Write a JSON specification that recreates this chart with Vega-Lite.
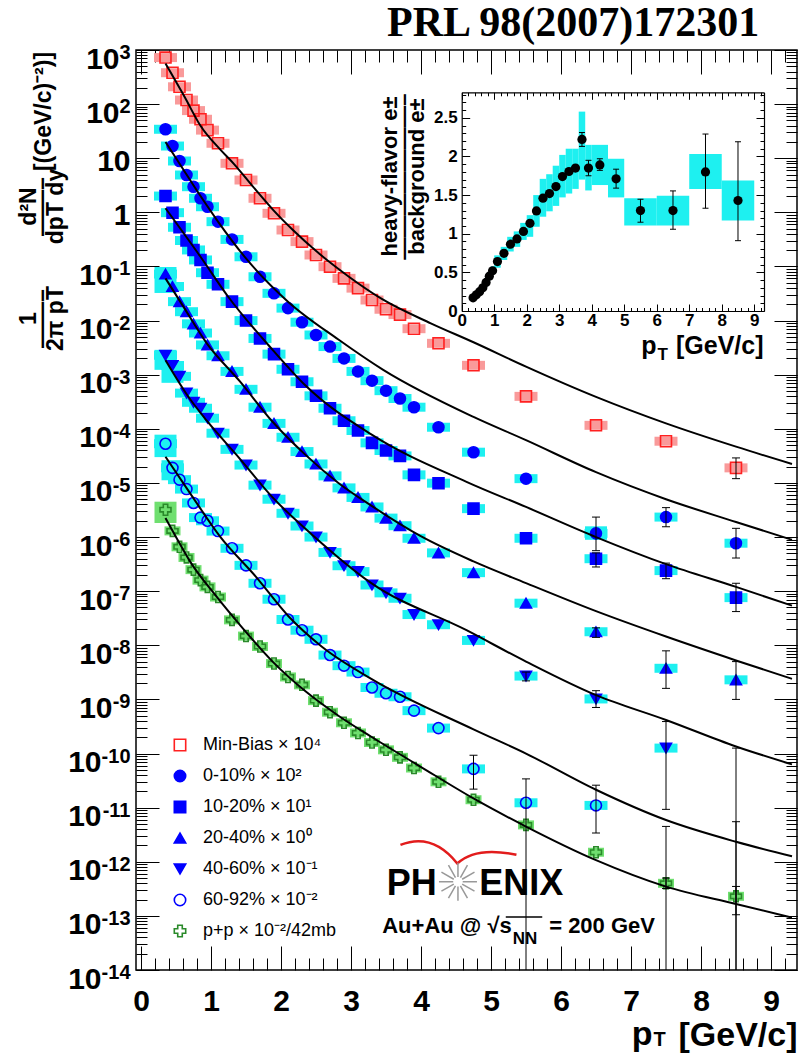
{
"$schema": "https://vega.github.io/schema/vega-lite/v6.json",
"width": 661, "height": 920,
"autosize": {"type": "none"},
"padding": {"left": 136, "top": 50, "right": 5, "bottom": 83},
"background": "white",
"config": {
  "font": "Liberation Sans",
  "view": {"stroke": "black", "strokeWidth": 1.5},
  "axis": {"grid": false, "labelFont": "Liberation Sans", "titleFont": "Liberation Sans", "labelColor": "black", "titleColor": "black", "tickColor": "black", "tickWidth": 1, "domainColor": "black"}
},
"datasets": {
  "main": [
    {"s":"Min-Bias","x":0.35,"y":724},{"s":"Min-Bias","x":0.45,"y":380},{"s":"Min-Bias","x":0.55,"y":209},{"s":"Min-Bias","x":0.65,"y":119},{"s":"Min-Bias","x":0.75,"y":75.9},{"s":"Min-Bias","x":0.85,"y":52.5},{"s":"Min-Bias","x":0.95,"y":33.1},{"s":"Min-Bias","x":1.1,"y":18.9},{"s":"Min-Bias","x":1.3,"y":8.05},{"s":"Min-Bias","x":1.5,"y":3.96},{"s":"Min-Bias","x":1.7,"y":1.82},{"s":"Min-Bias","x":1.9,"y":0.96},{"s":"Min-Bias","x":2.1,"y":0.472},{"s":"Min-Bias","x":2.3,"y":0.288},{"s":"Min-Bias","x":2.5,"y":0.163},{"s":"Min-Bias","x":2.7,"y":0.0991},{"s":"Min-Bias","x":2.9,"y":0.0603},{"s":"Min-Bias","x":3.1,"y":0.0398},{"s":"Min-Bias","x":3.3,"y":0.024},{"s":"Min-Bias","x":3.5,"y":0.0162},{"s":"Min-Bias","x":3.7,"y":0.0129},{"s":"Min-Bias","x":3.9,"y":0.00708},{"s":"Min-Bias","x":4.25,"y":0.0038},{"s":"Min-Bias","x":4.75,"y":0.00149},{"s":"Min-Bias","x":5.5,"y":0.000398},{"s":"Min-Bias","x":6.5,"y":0.000116},{"s":"Min-Bias","x":7.5,"y":5.9e-5},{"s":"Min-Bias","x":8.5,"y":1.9e-5},
    {"s":"0-10%","x":0.35,"y":34.3},{"s":"0-10%","x":0.45,"y":16.8},{"s":"0-10%","x":0.55,"y":8.89},{"s":"0-10%","x":0.65,"y":4.9},{"s":"0-10%","x":0.75,"y":2.98},{"s":"0-10%","x":0.85,"y":1.82},{"s":"0-10%","x":0.95,"y":1.27},{"s":"0-10%","x":1.1,"y":0.673},{"s":"0-10%","x":1.3,"y":0.316},{"s":"0-10%","x":1.5,"y":0.151},{"s":"0-10%","x":1.7,"y":0.0646},{"s":"0-10%","x":1.9,"y":0.0319},{"s":"0-10%","x":2.1,"y":0.017},{"s":"0-10%","x":2.3,"y":0.00933},{"s":"0-10%","x":2.5,"y":0.00542},{"s":"0-10%","x":2.7,"y":0.00331},{"s":"0-10%","x":2.9,"y":0.002},{"s":"0-10%","x":3.1,"y":0.00115},{"s":"0-10%","x":3.3,"y":0.000776},{"s":"0-10%","x":3.5,"y":0.000507},{"s":"0-10%","x":3.7,"y":0.000363},{"s":"0-10%","x":3.9,"y":0.000251},{"s":"0-10%","x":4.25,"y":0.000107},{"s":"0-10%","x":4.75,"y":3.7e-5},{"s":"0-10%","x":5.5,"y":1.2e-5},{"s":"0-10%","x":6.5,"y":1.17e-6},{"s":"0-10%","x":7.5,"y":2.34e-6},{"s":"0-10%","x":8.5,"y":7.7e-7},
    {"s":"10-20%","x":0.35,"y":2.0},{"s":"10-20%","x":0.45,"y":0.986},{"s":"10-20%","x":0.55,"y":0.53},{"s":"10-20%","x":0.65,"y":0.302},{"s":"10-20%","x":0.75,"y":0.202},{"s":"10-20%","x":0.85,"y":0.132},{"s":"10-20%","x":0.95,"y":0.0767},{"s":"10-20%","x":1.1,"y":0.0468},{"s":"10-20%","x":1.3,"y":0.0224},{"s":"10-20%","x":1.5,"y":0.01},{"s":"10-20%","x":1.7,"y":0.00468},{"s":"10-20%","x":1.9,"y":0.0024},{"s":"10-20%","x":2.1,"y":0.00126},{"s":"10-20%","x":2.3,"y":0.000741},{"s":"10-20%","x":2.5,"y":0.000407},{"s":"10-20%","x":2.7,"y":0.00024},{"s":"10-20%","x":2.9,"y":0.000141},{"s":"10-20%","x":3.1,"y":9.3e-5},{"s":"10-20%","x":3.3,"y":5.5e-5},{"s":"10-20%","x":3.5,"y":3.98e-5},{"s":"10-20%","x":3.7,"y":3.16e-5},{"s":"10-20%","x":3.9,"y":1.41e-5},{"s":"10-20%","x":4.25,"y":9.9e-6},{"s":"10-20%","x":4.75,"y":3.35e-6},{"s":"10-20%","x":5.5,"y":9.5e-7},{"s":"10-20%","x":6.5,"y":3.98e-7},{"s":"10-20%","x":7.5,"y":2.4e-7},{"s":"10-20%","x":8.5,"y":7.6e-8},
    {"s":"20-40%","x":0.35,"y":0.0724},{"s":"20-40%","x":0.45,"y":0.0427},{"s":"20-40%","x":0.55,"y":0.0224},{"s":"20-40%","x":0.65,"y":0.0146},{"s":"20-40%","x":0.75,"y":0.0087},{"s":"20-40%","x":0.85,"y":0.00589},{"s":"20-40%","x":0.95,"y":0.00355},{"s":"20-40%","x":1.1,"y":0.00224},{"s":"20-40%","x":1.3,"y":0.00115},{"s":"20-40%","x":1.5,"y":0.000537},{"s":"20-40%","x":1.7,"y":0.000251},{"s":"20-40%","x":1.9,"y":0.000126},{"s":"20-40%","x":2.1,"y":6.98e-5},{"s":"20-40%","x":2.3,"y":3.8e-5},{"s":"20-40%","x":2.5,"y":2.24e-5},{"s":"20-40%","x":2.7,"y":1.35e-5},{"s":"20-40%","x":2.9,"y":8.1e-6},{"s":"20-40%","x":3.1,"y":5.4e-6},{"s":"20-40%","x":3.3,"y":3.6e-6},{"s":"20-40%","x":3.5,"y":2.24e-6},{"s":"20-40%","x":3.7,"y":1.62e-6},{"s":"20-40%","x":3.9,"y":9.5e-7},{"s":"20-40%","x":4.25,"y":5.1e-7},{"s":"20-40%","x":4.75,"y":2.2e-7},{"s":"20-40%","x":5.5,"y":6.0e-8},{"s":"20-40%","x":6.5,"y":1.78e-8},{"s":"20-40%","x":7.5,"y":3.76e-9},{"s":"20-40%","x":8.5,"y":2.3e-9},
    {"s":"40-60%","x":0.35,"y":0.00229},{"s":"40-60%","x":0.45,"y":0.00148},{"s":"40-60%","x":0.55,"y":0.000933},{"s":"40-60%","x":0.65,"y":0.000457},{"s":"40-60%","x":0.75,"y":0.000309},{"s":"40-60%","x":0.85,"y":0.00024},{"s":"40-60%","x":0.95,"y":0.000157},{"s":"40-60%","x":1.1,"y":8.3e-5},{"s":"40-60%","x":1.3,"y":4.17e-5},{"s":"40-60%","x":1.5,"y":2.14e-5},{"s":"40-60%","x":1.7,"y":9.1e-6},{"s":"40-60%","x":1.9,"y":5.0e-6},{"s":"40-60%","x":2.1,"y":2.75e-6},{"s":"40-60%","x":2.3,"y":1.6e-6},{"s":"40-60%","x":2.5,"y":1.0e-6},{"s":"40-60%","x":2.7,"y":5.2e-7},{"s":"40-60%","x":2.9,"y":2.95e-7},{"s":"40-60%","x":3.1,"y":2.3e-7},{"s":"40-60%","x":3.3,"y":1.3e-7},{"s":"40-60%","x":3.5,"y":9.3e-8},{"s":"40-60%","x":3.7,"y":7.4e-8},{"s":"40-60%","x":3.9,"y":3.7e-8},{"s":"40-60%","x":4.25,"y":2.4e-8},{"s":"40-60%","x":4.75,"y":1.23e-8},{"s":"40-60%","x":5.5,"y":2.7e-9},{"s":"40-60%","x":6.5,"y":1.02e-9},{"s":"40-60%","x":7.5,"y":1.26e-10},
    {"s":"60-92%","x":0.35,"y":5.3e-5},{"s":"60-92%","x":0.45,"y":1.9e-5},{"s":"60-92%","x":0.55,"y":1.15e-5},{"s":"60-92%","x":0.65,"y":7.7e-6},{"s":"60-92%","x":0.75,"y":4.27e-6},{"s":"60-92%","x":0.85,"y":2.29e-6},{"s":"60-92%","x":0.95,"y":2.0e-6},{"s":"60-92%","x":1.1,"y":1.29e-6},{"s":"60-92%","x":1.3,"y":6.2e-7},{"s":"60-92%","x":1.5,"y":3.0e-7},{"s":"60-92%","x":1.7,"y":1.4e-7},{"s":"60-92%","x":1.9,"y":7.1e-8},{"s":"60-92%","x":2.1,"y":3.0e-8},{"s":"60-92%","x":2.3,"y":1.9e-8},{"s":"60-92%","x":2.5,"y":1.29e-8},{"s":"60-92%","x":2.7,"y":6.6e-9},{"s":"60-92%","x":2.9,"y":4.2e-9},{"s":"60-92%","x":3.1,"y":3.2e-9},{"s":"60-92%","x":3.3,"y":1.66e-9},{"s":"60-92%","x":3.5,"y":1.3e-9},{"s":"60-92%","x":3.7,"y":1.12e-9},{"s":"60-92%","x":3.9,"y":6.2e-10},{"s":"60-92%","x":4.25,"y":2.95e-10},{"s":"60-92%","x":4.75,"y":5.2e-11},{"s":"60-92%","x":5.5,"y":1.23e-11},{"s":"60-92%","x":6.5,"y":1.1e-11},
    {"s":"p+p","x":0.35,"y":3.2e-6},{"s":"p+p","x":0.45,"y":1.3e-6},{"s":"p+p","x":0.55,"y":6.6e-7},{"s":"p+p","x":0.65,"y":4.2e-7},{"s":"p+p","x":0.75,"y":2.5e-7},{"s":"p+p","x":0.85,"y":1.6e-7},{"s":"p+p","x":0.95,"y":1.2e-7},{"s":"p+p","x":1.1,"y":7.8e-8},{"s":"p+p","x":1.3,"y":2.95e-8},{"s":"p+p","x":1.5,"y":1.48e-8},{"s":"p+p","x":1.7,"y":9.5e-9},{"s":"p+p","x":1.9,"y":4.6e-9},{"s":"p+p","x":2.1,"y":2.6e-9},{"s":"p+p","x":2.3,"y":1.86e-9},{"s":"p+p","x":2.5,"y":9.5e-10},{"s":"p+p","x":2.7,"y":5.8e-10},{"s":"p+p","x":2.9,"y":3.7e-10},{"s":"p+p","x":3.1,"y":2.4e-10},{"s":"p+p","x":3.3,"y":1.6e-10},{"s":"p+p","x":3.5,"y":1.17e-10},{"s":"p+p","x":3.7,"y":8.5e-11},{"s":"p+p","x":3.9,"y":5.4e-11},{"s":"p+p","x":4.25,"y":3.0e-11},{"s":"p+p","x":4.75,"y":1.4e-11},{"s":"p+p","x":5.5,"y":4.8e-12},{"s":"p+p","x":6.5,"y":1.5e-12},{"s":"p+p","x":7.5,"y":4.0e-13},{"s":"p+p","x":8.5,"y":2.3e-13}
  ],
  "bigbox": [
    {"s":"20-40%","x":0.35,"lo":0.0324,"hi":0.0977},
    {"s":"40-60%","x":0.35,"lo":0.00123,"hi":0.00288},
    {"s":"40-60%","x":0.45,"lo":0.000708,"hi":0.0017},
    {"s":"60-92%","x":0.35,"lo":3.0e-5,"hi":7.8e-5},
    {"s":"60-92%","x":0.45,"lo":1.12e-5,"hi":2.63e-5},
    {"s":"p+p","x":0.35,"lo":1.82e-6,"hi":4.5e-6},
    {"s":"0-10%","x":6.5,"lo":8.9e-7,"hi":1.58e-6}
  ],
  "err": [
    {"s":"Min-Bias","x":8.5,"lo":1.2e-5,"hi":2.9e-5},
    {"s":"0-10%","x":6.5,"lo":5.6e-7,"hi":2.34e-6},
    {"s":"0-10%","x":7.5,"lo":1.55e-6,"hi":3.5e-6},
    {"s":"0-10%","x":8.5,"lo":4.1e-7,"hi":1.45e-6},
    {"s":"10-20%","x":6.5,"lo":2.8e-7,"hi":5.1e-7},
    {"s":"10-20%","x":7.5,"lo":1.7e-7,"hi":3.3e-7},
    {"s":"10-20%","x":8.5,"lo":4.2e-8,"hi":1.4e-7},
    {"s":"20-40%","x":6.5,"lo":1.4e-8,"hi":2.1e-8},
    {"s":"20-40%","x":7.5,"lo":1.6e-9,"hi":7.9e-9},
    {"s":"20-40%","x":8.5,"lo":1.0e-9,"hi":5.0e-9},
    {"s":"40-60%","x":5.5,"lo":2.2e-9,"hi":3.2e-9},
    {"s":"40-60%","x":6.5,"lo":7.1e-10,"hi":1.45e-9},
    {"s":"40-60%","x":7.5,"lo":9.3e-12,"hi":3.9e-10},
    {"s":"40-60%","x":8.5,"lo":1e-14,"hi":1.26e-10},
    {"s":"60-92%","x":4.75,"lo":2.2e-11,"hi":9.3e-11},
    {"s":"60-92%","x":5.5,"lo":1e-14,"hi":3.4e-11},
    {"s":"60-92%","x":6.5,"lo":3.4e-12,"hi":2.6e-11},
    {"s":"60-92%","x":7.5,"lo":1e-14,"hi":4.5e-12},
    {"s":"60-92%","x":8.5,"lo":1e-14,"hi":5.5e-12},
    {"s":"p+p","x":7.5,"lo":3.2e-13,"hi":5.0e-13},
    {"s":"p+p","x":8.5,"lo":1.05e-13,"hi":3.5e-13}
  ],
  "curves": [
    {"s":"Min-Bias","x":0.35,"y":562},{"s":"Min-Bias","x":0.62,"y":138},{"s":"Min-Bias","x":0.85,"y":39.8},{"s":"Min-Bias","x":1.14,"y":14.1},{"s":"Min-Bias","x":1.32,"y":8.05},{"s":"Min-Bias","x":1.6,"y":2.98},{"s":"Min-Bias","x":1.89,"y":1.1},{"s":"Min-Bias","x":2.17,"y":0.472},{"s":"Min-Bias","x":2.54,"y":0.175},{"s":"Min-Bias","x":2.97,"y":0.0646},{"s":"Min-Bias","x":3.44,"y":0.0251},{"s":"Min-Bias","x":4.14,"y":0.00891},{"s":"Min-Bias","x":4.75,"y":0.00398},{"s":"Min-Bias","x":5.5,"y":0.00141},{"s":"Min-Bias","x":6.5,"y":0.000389},{"s":"Min-Bias","x":7.5,"y":0.000126},{"s":"Min-Bias","x":8.5,"y":4.68e-5},{"s":"Min-Bias","x":9.3,"y":2.24e-5},
    {"s":"0-10%","x":0.35,"y":19.95},{"s":"0-10%","x":0.6,"y":6.31},{"s":"0-10%","x":0.85,"y":2.0},{"s":"0-10%","x":1.1,"y":0.676},{"s":"0-10%","x":1.5,"y":0.141},{"s":"0-10%","x":2.1,"y":0.0224},{"s":"0-10%","x":2.82,"y":0.00447},{"s":"0-10%","x":3.46,"y":0.00123},{"s":"0-10%","x":4.75,"y":0.000166},{"s":"0-10%","x":5.5,"y":6.17e-5},{"s":"0-10%","x":6.5,"y":1.58e-5},{"s":"0-10%","x":7.5,"y":5.0e-6},{"s":"0-10%","x":8.5,"y":1.9e-6},{"s":"0-10%","x":9.3,"y":8.9e-7},
    {"s":"10-20%","x":0.35,"y":1.19},{"s":"10-20%","x":0.85,"y":0.151},{"s":"10-20%","x":1.24,"y":0.0282},{"s":"10-20%","x":1.88,"y":0.00288},{"s":"10-20%","x":2.35,"y":0.00063},{"s":"10-20%","x":3.29,"y":7.9e-5},{"s":"10-20%","x":4.65,"y":1.05e-5},{"s":"10-20%","x":5.5,"y":3.6e-6},{"s":"10-20%","x":6.5,"y":1.0e-6},{"s":"10-20%","x":7.5,"y":3.16e-7},{"s":"10-20%","x":8.5,"y":1.2e-7},{"s":"10-20%","x":9.3,"y":5.4e-8},
    {"s":"20-40%","x":0.35,"y":0.0603},{"s":"20-40%","x":0.59,"y":0.0195},{"s":"20-40%","x":0.94,"y":0.0038},{"s":"20-40%","x":1.41,"y":0.000759},{"s":"20-40%","x":1.88,"y":0.000135},{"s":"20-40%","x":2.35,"y":3.3e-5},{"s":"20-40%","x":2.82,"y":1.0e-5},{"s":"20-40%","x":3.29,"y":3.8e-6},{"s":"20-40%","x":3.99,"y":1.05e-6},{"s":"20-40%","x":4.75,"y":3.55e-7},{"s":"20-40%","x":5.5,"y":1.41e-7},{"s":"20-40%","x":6.5,"y":4.27e-8},{"s":"20-40%","x":7.5,"y":1.45e-8},{"s":"20-40%","x":8.5,"y":5.25e-9},{"s":"20-40%","x":9.3,"y":2.4e-9},
    {"s":"40-60%","x":0.35,"y":0.00186},{"s":"40-60%","x":0.7,"y":0.000355},{"s":"40-60%","x":0.94,"y":0.000141},{"s":"40-60%","x":1.41,"y":2.82e-5},{"s":"40-60%","x":1.88,"y":5.4e-6},{"s":"40-60%","x":2.44,"y":1.12e-6},{"s":"40-60%","x":3.29,"y":1.41e-7},{"s":"40-60%","x":4.65,"y":1.9e-8},{"s":"40-60%","x":5.5,"y":5.0e-9},{"s":"40-60%","x":6.5,"y":1.2e-9},{"s":"40-60%","x":7.5,"y":4.17e-10},{"s":"40-60%","x":8.5,"y":1.35e-10},{"s":"40-60%","x":9.3,"y":6.3e-11},
    {"s":"60-92%","x":0.35,"y":3.05e-5},{"s":"60-92%","x":0.7,"y":6.5e-6},{"s":"60-92%","x":1.13,"y":1.02e-6},{"s":"60-92%","x":1.64,"y":1.86e-7},{"s":"60-92%","x":2.11,"y":3.4e-8},{"s":"60-92%","x":2.58,"y":9.5e-9},{"s":"60-92%","x":3.29,"y":2.4e-9},{"s":"60-92%","x":4.75,"y":2.8e-10},{"s":"60-92%","x":5.5,"y":1.0e-10},{"s":"60-92%","x":6.5,"y":2.14e-11},{"s":"60-92%","x":7.5,"y":5.9e-12},{"s":"60-92%","x":8.5,"y":2.34e-12},{"s":"60-92%","x":9.3,"y":1.26e-12},
    {"s":"p+p","x":0.35,"y":2.24e-6},{"s":"p+p","x":0.5,"y":1.0e-6},{"s":"p+p","x":0.7,"y":3.55e-7},{"s":"p+p","x":1.08,"y":7.9e-8},{"s":"p+p","x":1.41,"y":2.4e-8},{"s":"p+p","x":1.88,"y":5.0e-9},{"s":"p+p","x":2.35,"y":1.41e-9},{"s":"p+p","x":2.82,"y":5.0e-10},{"s":"p+p","x":3.29,"y":2.04e-10},{"s":"p+p","x":3.99,"y":5.75e-11},{"s":"p+p","x":4.75,"y":1.48e-11},{"s":"p+p","x":5.5,"y":4.47e-12},{"s":"p+p","x":6.5,"y":1.07e-12},{"s":"p+p","x":7.5,"y":3.47e-13},{"s":"p+p","x":8.5,"y":1.66e-13},{"s":"p+p","x":9.3,"y":9.3e-14}
  ],
  "ratio": [
    {"x":0.35,"y":0.17},{"x":0.45,"y":0.21},{"x":0.55,"y":0.25},{"x":0.65,"y":0.3},{"x":0.75,"y":0.37},{"x":0.85,"y":0.45},{"x":0.95,"y":0.52},{"x":1.1,"y":0.64},{"x":1.3,"y":0.747},{"x":1.5,"y":0.864},{"x":1.7,"y":0.933},{"x":1.9,"y":1.03},{"x":2.1,"y":1.135},{"x":2.3,"y":1.295},{"x":2.5,"y":1.46},{"x":2.7,"y":1.52},{"x":2.9,"y":1.61},{"x":3.1,"y":1.74},{"x":3.3,"y":1.805},{"x":3.5,"y":1.85},{"x":3.7,"y":2.22},{"x":3.9,"y":1.85},{"x":4.25,"y":1.89},{"x":4.75,"y":1.71},{"x":5.5,"y":1.3},{"x":6.5,"y":1.3},{"x":7.5,"y":1.8},{"x":8.5,"y":1.43}
  ],
  "ratiosys": [
    {"x1":0.3,"x2":0.4,"lo":0.14,"hi":0.2},{"x1":0.4,"x2":0.5,"lo":0.18,"hi":0.25},{"x1":0.5,"x2":0.6,"lo":0.22,"hi":0.29},{"x1":0.6,"x2":0.7,"lo":0.26,"hi":0.34},{"x1":0.7,"x2":0.8,"lo":0.32,"hi":0.42},{"x1":0.8,"x2":0.9,"lo":0.4,"hi":0.5},{"x1":0.9,"x2":1.0,"lo":0.47,"hi":0.58},{"x1":1.0,"x2":1.2,"lo":0.56,"hi":0.72},{"x1":1.2,"x2":1.4,"lo":0.66,"hi":0.83},{"x1":1.4,"x2":1.6,"lo":0.77,"hi":0.96},{"x1":1.6,"x2":1.8,"lo":0.83,"hi":1.03},{"x1":1.8,"x2":2.0,"lo":0.92,"hi":1.14},{"x1":2.0,"x2":2.2,"lo":0.96,"hi":1.24},{"x1":2.2,"x2":2.4,"lo":1.09,"hi":1.5},{"x1":2.4,"x2":2.6,"lo":1.22,"hi":1.71},{"x1":2.6,"x2":2.8,"lo":1.29,"hi":1.77},{"x1":2.8,"x2":3.0,"lo":1.36,"hi":1.88},{"x1":3.0,"x2":3.2,"lo":1.47,"hi":2.02},{"x1":3.2,"x2":3.4,"lo":1.52,"hi":2.1},{"x1":3.4,"x2":3.6,"lo":1.58,"hi":2.1},{"x1":3.6,"x2":3.8,"lo":1.7,"hi":2.58},{"x1":3.8,"x2":4.0,"lo":1.56,"hi":2.15},{"x1":4.0,"x2":4.5,"lo":1.63,"hi":2.15},{"x1":4.5,"x2":5.0,"lo":1.47,"hi":1.97},{"x1":5.0,"x2":6.0,"lo":1.105,"hi":1.46},{"x1":6.0,"x2":7.0,"lo":1.105,"hi":1.49},{"x1":7.0,"x2":8.0,"lo":1.58,"hi":2.03},{"x1":8.0,"x2":9.0,"lo":1.17,"hi":1.69}
  ],
  "ratioerr": [
    {"x":3.7,"lo":2.13,"hi":2.31},{"x":3.9,"lo":1.75,"hi":1.95},{"x":4.25,"lo":1.82,"hi":1.97},{"x":4.75,"lo":1.59,"hi":1.835},{"x":5.5,"lo":1.149,"hi":1.446},{"x":6.5,"lo":1.058,"hi":1.554},{"x":7.5,"lo":1.33,"hi":2.29},{"x":8.5,"lo":0.91,"hi":2.19}
  ]
},
"layer": [
 {
  "layer": [
   {
    "data": {"name": "main"},
    "transform": [{"filter": "datum.s !== 'p+p'"}],
    "mark": {"type": "tick", "orient": "horizontal", "size": 23, "thickness": 9, "opacity": 1, "clip": true},
    "encoding": {
      "x": {"field": "x", "type": "quantitative", "scale": {"domain": [0, 9.3], "nice": false, "zero": false},
        "axis": {"orient": "bottom", "values": [0,1,2,3,4,5,6,7,8,9], "format": "d", "tickSize": -24, "domain": false, "labelFontSize": 30, "labelFontWeight": "bold", "labelPadding": 40, "labelFlush": false, "labelOverlap": false,
          "title": "[GeV/c]", "titleFontSize": 34, "titleFontWeight": "bold", "titleAlign": "right", "titleAngle": 0, "titleBaseline": "alphabetic", "titleX": 661, "titleY": 75}},
      "y": {"field": "y", "type": "quantitative", "scale": {"type": "log", "domain": [1e-14, 1000], "nice": false},
        "axis": {"orient": "left", "values": [1e-14,1e-13,1e-12,1e-11,1e-10,1e-9,1e-8,1e-7,1e-6,1e-5,1e-4,1e-3,1e-2,1e-1,1,10,100,1000], "tickSize": -23, "domain": false, "labelFontSize": 30, "labelFontWeight": "bold", "labelPadding": 58, "labelOffset": 9, "labelAlign": "right", "labelBaseline": "middle", "labelFlush": false, "labelOverlap": false,
          "labelExpr": "datum.value < 5e-10 ? '10' : ''",
          "title": ["1", "——–", "2π pT"], "titleFontSize": 23, "titleFontWeight": "bold", "titleAngle": -90, "titleAlign": "center", "titleBaseline": "alphabetic", "titleLineHeight": 13.5, "titleX": -101, "titleY": 268}},
      "color": {"condition": {"test": "datum.s === 'Min-Bias'", "value": "#f99a9a"}, "value": "#1ef0f0"}
    }
   },
   {
    "data": {"name": "main"},
    "transform": [{"filter": "datum.s === 'p+p'"}],
    "mark": {"type": "tick", "orient": "horizontal", "size": 16, "thickness": 9, "color": "#6fdf6f", "opacity": 1, "clip": true},
    "encoding": {
      "x": {"field": "x", "type": "quantitative", "axis": null},
      "y": {"field": "y", "type": "quantitative",
        "axis": {"orient": "left", "values": [1e-14,1e-13,1e-12,1e-11,1e-10,1e-9,1e-8,1e-7,1e-6,1e-5,1e-4,1e-3,1e-2,1e-1,1,10,100,1000], "ticks": false, "tickSize": 0, "domain": false, "labels": true, "labelFontSize": 30, "labelFontWeight": "bold", "labelPadding": 24, "labelOffset": 9, "labelAlign": "right", "labelBaseline": "middle", "labelFlush": false, "labelOverlap": false,
          "labelExpr": "(datum.value > 5e-10 && datum.value < 0.5) ? '10' : ''", "title": null}}
    }
   },
   {
    "data": {"name": "bigbox"},
    "mark": {"type": "bar", "width": 22, "clip": true},
    "encoding": {
      "x": {"field": "x", "type": "quantitative", "axis": null},
      "y": {"field": "lo", "type": "quantitative",
        "axis": {"orient": "left", "values": [1e-14,1e-13,1e-12,1e-11,1e-10,1e-9,1e-8,1e-7,1e-6,1e-5,1e-4,1e-3,1e-2,1e-1,1,10,100,1000], "ticks": false, "tickSize": 0, "domain": false, "labels": true, "labelFontSize": 30, "labelFontWeight": "bold", "labelPadding": 17, "labelOffset": 9, "labelAlign": "right", "labelBaseline": "middle", "labelFlush": false, "labelOverlap": false,
          "labelExpr": "datum.value > 50 ? '10' : ''", "title": null}},
      "y2": {"field": "hi"},
      "color": {"condition": {"test": "datum.s === 'p+p'", "value": "#6fdf6f"}, "value": "#1ef0f0"}
    }
   },
   {
    "data": {"name": "main"},
    "mark": {"type": "point", "size": 120, "strokeWidth": 1.6, "opacity": 1, "clip": true},
    "encoding": {
      "x": {"field": "x", "type": "quantitative", "axis": null},
      "y": {"field": "y", "type": "quantitative", "axis": null},
      "shape": {"field": "s", "type": "nominal", "scale": {"domain": ["Min-Bias","0-10%","10-20%","20-40%","40-60%","60-92%","p+p"], "range": ["square","circle","square","triangle-up","triangle-down","circle","cross"]},
        "legend": {"title": null, "orient": "none", "legendX": 35, "legendY": 686, "symbolSize": 130, "symbolStrokeWidth": 1.6, "labelFont": "Liberation Sans", "labelFontSize": 18, "labelColor": "black", "labelOffset": 14, "rowPadding": 13,
          "labelExpr": "datum.label == 'Min-Bias' ? 'Min-Bias × 10⁴' : datum.label == '0-10%' ? '0-10% × 10²' : datum.label == '10-20%' ? '10-20% × 10¹' : datum.label == '20-40%' ? '20-40% × 10⁰' : datum.label == '40-60%' ? '40-60% × 10⁻¹' : datum.label == '60-92%' ? '60-92% × 10⁻²' : 'p+p × 10⁻²/42mb'"}},
      "fill": {"field": "s", "type": "nominal", "scale": {"domain": ["Min-Bias","0-10%","10-20%","20-40%","40-60%","60-92%","p+p"], "range": ["transparent","#0000ff","#0000ff","#0000ff","#0000ff","transparent","transparent"]},
        "legend": {"title": null, "orient": "none", "legendX": 35, "legendY": 686, "symbolSize": 130, "symbolStrokeWidth": 1.6, "labelFont": "Liberation Sans", "labelFontSize": 18, "labelColor": "black", "labelOffset": 14, "rowPadding": 13,
          "labelExpr": "datum.label == 'Min-Bias' ? 'Min-Bias × 10⁴' : datum.label == '0-10%' ? '0-10% × 10²' : datum.label == '10-20%' ? '10-20% × 10¹' : datum.label == '20-40%' ? '20-40% × 10⁰' : datum.label == '40-60%' ? '40-60% × 10⁻¹' : datum.label == '60-92%' ? '60-92% × 10⁻²' : 'p+p × 10⁻²/42mb'"}},
      "stroke": {"field": "s", "type": "nominal", "scale": {"domain": ["Min-Bias","0-10%","10-20%","20-40%","40-60%","60-92%","p+p"], "range": ["#ff2020","#0000ff","#0000ff","#0000ff","#0000ff","#0000ff","#2a8a2a"]},
        "legend": {"title": null, "orient": "none", "legendX": 35, "legendY": 686, "symbolSize": 130, "symbolStrokeWidth": 1.6, "labelFont": "Liberation Sans", "labelFontSize": 18, "labelColor": "black", "labelOffset": 14, "rowPadding": 13,
          "labelExpr": "datum.label == 'Min-Bias' ? 'Min-Bias × 10⁴' : datum.label == '0-10%' ? '0-10% × 10²' : datum.label == '10-20%' ? '10-20% × 10¹' : datum.label == '20-40%' ? '20-40% × 10⁰' : datum.label == '40-60%' ? '40-60% × 10⁻¹' : datum.label == '60-92%' ? '60-92% × 10⁻²' : 'p+p × 10⁻²/42mb'"}}
    }
   },
   {
    "data": {"name": "curves"},
    "mark": {"type": "line", "color": "black", "strokeWidth": 2, "interpolate": "monotone", "clip": true},
    "encoding": {
      "x": {"field": "x", "type": "quantitative",
        "axis": {"orient": "bottom", "values": [0.2,0.4,0.6,0.8,1.2,1.4,1.6,1.8,2.2,2.4,2.6,2.8,3.2,3.4,3.6,3.8,4.2,4.4,4.6,4.8,5.2,5.4,5.6,5.8,6.2,6.4,6.6,6.8,7.2,7.4,7.6,7.8,8.2,8.4,8.6,8.8,9.2], "tickSize": -12, "labels": false, "domain": false,
          "title": "p", "titleFontSize": 34, "titleFontWeight": "bold", "titleAlign": "right", "titleAngle": 0, "titleBaseline": "alphabetic", "titleX": 516, "titleY": 74}},
      "y": {"field": "y", "type": "quantitative",
        "axis": {"orient": "left", "tickCount": 200, "tickSize": -11, "labels": true, "labelFontSize": 30, "labelFontWeight": "bold", "labelPadding": 17, "labelOffset": 3.5, "labelAlign": "right", "labelBaseline": "middle", "labelOverlap": false, "labelFlush": false, "labelBound": false,
          "labelExpr": "datum.value == 1 ? '1' : datum.value == 10 ? '10' : ''", "domain": false,
          "title": ["d²N", "——–", "dpT dy"], "titleFontSize": 23, "titleFontWeight": "bold", "titleAngle": -90, "titleAlign": "center", "titleBaseline": "alphabetic", "titleLineHeight": 13.5, "titleX": -101, "titleY": 156}},
      "detail": {"field": "s"}
    }
   },
   {
    "data": {"name": "err"},
    "mark": {"type": "rule", "color": "black", "strokeWidth": 1, "clip": true},
    "encoding": {
      "x": {"field": "x", "type": "quantitative",
        "axis": {"orient": "top", "values": [0,1,2,3,4,5,6,7,8,9], "tickSize": -24, "labels": false, "domain": false, "title": null}},
      "y": {"field": "lo", "type": "quantitative",
        "axis": {"orient": "right", "values": [1e-14,1e-13,1e-12,1e-11,1e-10,1e-9,1e-8,1e-7,1e-6,1e-5,1e-4,1e-3,1e-2,1e-1,1,10,100,1000], "tickSize": -23, "labels": false, "domain": false, "title": null}},
      "y2": {"field": "hi"}
    }
   },
   {
    "data": {"name": "err"},
    "transform": [{"filter": "datum.lo > 1e-14"}],
    "mark": {"type": "tick", "orient": "horizontal", "size": 8, "thickness": 1, "color": "black", "opacity": 1, "clip": true},
    "encoding": {
      "x": {"field": "x", "type": "quantitative",
        "axis": {"orient": "top", "values": [0.2,0.4,0.6,0.8,1.2,1.4,1.6,1.8,2.2,2.4,2.6,2.8,3.2,3.4,3.6,3.8,4.2,4.4,4.6,4.8,5.2,5.4,5.6,5.8,6.2,6.4,6.6,6.8,7.2,7.4,7.6,7.8,8.2,8.4,8.6,8.8,9.2], "tickSize": -12, "labels": false, "domain": false, "title": null}},
      "y": {"field": "lo", "type": "quantitative",
        "axis": {"orient": "right", "tickCount": 200, "tickSize": -11, "labels": false, "domain": false, "title": null}}
    }
   },
   {
    "data": {"name": "err"},
    "mark": {"type": "tick", "orient": "horizontal", "size": 8, "thickness": 1, "color": "black", "opacity": 1, "clip": true},
    "encoding": {
      "x": {"field": "x", "type": "quantitative",
        "axis": {"orient": "bottom", "ticks": false, "labels": false, "domain": false,
          "title": "T", "titleFontSize": 20, "titleFontWeight": "bold", "titleAlign": "left", "titleAngle": 0, "titleBaseline": "alphabetic", "titleX": 517, "titleY": 75}},
      "y": {"field": "hi", "type": "quantitative",
        "axis": {"orient": "left", "values": [1e-14,1e-13,1e-12,1e-11,1e-10,1e-9,1e-8,1e-7,1e-6,1e-5,1e-4,1e-3,1e-2,1e-1,1,10,100,1000], "ticks": false, "tickSize": 0, "domain": false,
          "labels": true, "labelFontSize": 20, "labelFontWeight": "bold", "labelPadding": 6, "labelOffset": 2.5, "labelAlign": "right", "labelBaseline": "middle", "labelOverlap": false, "labelFlush": false,
          "labelExpr": "['-14','-13','-12','-11','-10','-9','-8','-7','-6','-5','-4','-3','-2','-1','','','2','3'][round(log(datum.value)/LN10) + 14]",
          "title": "[(GeV/c)⁻²)]", "titleFontSize": 23, "titleFontWeight": "bold", "titleAngle": -90, "titleAlign": "center", "titleBaseline": "alphabetic", "titleX": -86, "titleY": 61}}
    }
   },
   {
    "data": {"values": [{}]},
    "mark": {"type": "text", "text": "PRL 98(2007)172301", "align": "right", "baseline": "alphabetic", "font": "Liberation Serif", "fontSize": 42, "fontWeight": "bold", "color": "black"},
    "encoding": {"x": {"datum": 8.831, "type": "quantitative", "axis": null}, "y": {"datum": 1814, "type": "quantitative", "axis": null}}
   },
   {
    "data": {"values": [{}]},
    "mark": {"type": "point", "shape": "M-1,-0.12 Q-0.45,-0.34 -0.02,0.2 Q0.3,-0.1 1,0.05", "size": 13456, "stroke": "#e21c1c", "strokeWidth": 2.5, "filled": false, "opacity": 1},
    "encoding": {"x": {"datum": 4.535, "type": "quantitative", "axis": null}, "y": {"datum": 1.52e-12, "type": "quantitative", "axis": null}}
   },
   {
    "data": {"values": [{}]},
    "mark": {"type": "point", "shape": "M0.25,0L1,0M-0.25,0L-1,0M0,0.25L0,1M0,-0.25L0,-1M0.22,0.13L0.87,0.5M-0.22,-0.13L-0.87,-0.5M0.22,-0.13L0.87,-0.5M-0.22,0.13L-0.87,0.5M0.13,0.22L0.5,0.87M-0.13,-0.22L-0.5,-0.87M0.13,-0.22L0.5,-0.87M-0.13,0.22L-0.5,0.87", "size": 1444, "stroke": "#999999", "strokeWidth": 1.5, "filled": false, "opacity": 1},
    "encoding": {"x": {"datum": 4.528, "type": "quantitative", "axis": null}, "y": {"datum": 4.28e-13, "type": "quantitative", "axis": null}}
   },
   {
    "data": {"values": [{}]},
    "mark": {"type": "text", "text": "PH", "align": "right", "baseline": "alphabetic", "font": "Liberation Sans", "fontSize": 36, "fontWeight": "bold", "color": "black"},
    "encoding": {"x": {"datum": 4.225, "type": "quantitative", "axis": null}, "y": {"datum": 2.44e-13, "type": "quantitative", "axis": null}}
   },
   {
    "data": {"values": [{}]},
    "mark": {"type": "text", "text": "ENIX", "align": "left", "baseline": "alphabetic", "font": "Liberation Sans", "fontSize": 36, "fontWeight": "bold", "color": "black"},
    "encoding": {"x": {"datum": 4.831, "type": "quantitative", "axis": null}, "y": {"datum": 2.44e-13, "type": "quantitative", "axis": null}}
   },
   {
    "data": {"values": [{}]},
    "mark": {"type": "text", "text": "Au+Au @ √s", "align": "right", "baseline": "alphabetic", "font": "Liberation Sans", "fontSize": 22, "fontWeight": "bold", "color": "black"},
    "encoding": {"x": {"datum": 5.296, "type": "quantitative", "axis": null}, "y": {"datum": 4.83e-14, "type": "quantitative", "axis": null}}
   },
   {
    "data": {"values": [{}]},
    "mark": {"type": "text", "text": "NN", "align": "left", "baseline": "alphabetic", "font": "Liberation Sans", "fontSize": 17, "fontWeight": "bold", "color": "black"},
    "encoding": {"x": {"datum": 5.31, "type": "quantitative", "axis": null}, "y": {"datum": 3.03e-14, "type": "quantitative", "axis": null}}
   },
   {
    "data": {"values": [{}]},
    "mark": {"type": "text", "text": "= 200 GeV", "align": "left", "baseline": "alphabetic", "font": "Liberation Sans", "fontSize": 22, "fontWeight": "bold", "color": "black"},
    "encoding": {"x": {"datum": 5.831, "type": "quantitative", "axis": null}, "y": {"datum": 4.83e-14, "type": "quantitative", "axis": null}}
   },
   {
    "data": {"values": [{}]},
    "mark": {"type": "rule", "color": "black", "strokeWidth": 1.5},
    "encoding": {"x": {"datum": 5.211, "type": "quantitative", "axis": null}, "x2": {"datum": 5.732}, "y": {"datum": 9.5e-14, "type": "quantitative", "axis": null}}
   }
  ],
  "resolve": {"axis": {"x": "independent", "y": "independent"}}
 },
 {
  "layer": [
   {
    "data": {"name": "ratiosys"},
    "mark": {"type": "rect", "color": "#1ef0f0", "opacity": 1},
    "encoding": {
      "x": {"field": "x1", "type": "quantitative", "scale": {"domain": [0, 9.3], "nice": false, "zero": false, "range": [325.7, 628]},
        "axis": {"orient": "bottom", "offset": -659, "values": [0,1,2,3,4,5,6,7,8,9], "format": "d", "tickSize": -7, "domain": true, "domainWidth": 1.2, "labelFontSize": 17, "labelFontWeight": "bold", "labelPadding": 8.5, "labelFlush": false, "labelOverlap": false,
          "title": "[GeV/c]", "titleFontSize": 25, "titleFontWeight": "bold", "titleAlign": "right", "titleAngle": 0, "titleBaseline": "alphabetic", "titleX": 627, "titleY": 42}},
      "x2": {"field": "x2"},
      "y": {"field": "lo", "type": "quantitative", "scale": {"domain": [0, 2.83], "nice": false, "zero": false, "range": [261, 42.3]},
        "axis": {"orient": "left", "offset": -325.7, "values": [0,0.5,1,1.5,2,2.5], "format": "~g", "tickSize": -8, "domain": true, "domainWidth": 1.2, "labelFontSize": 17, "labelFontWeight": "bold", "labelPadding": 12.5, "labelFlush": false, "labelOverlap": false,
          "title": ["heavy-flavor e±", "———————–", "background e±"], "titleFontSize": 22, "titleFontWeight": "bold", "titleAngle": -90, "titleAlign": "center", "titleBaseline": "alphabetic", "titleLineHeight": 13.5, "titleX": -65, "titleY": 126}},
      "y2": {"field": "hi"}
    }
   },
   {
    "data": {"name": "ratioerr"},
    "mark": {"type": "rule", "color": "black", "strokeWidth": 1},
    "encoding": {
      "x": {"field": "x", "type": "quantitative",
        "axis": {"orient": "bottom", "offset": -659, "values": [0.2,0.4,0.6,0.8,1.2,1.4,1.6,1.8,2.2,2.4,2.6,2.8,3.2,3.4,3.6,3.8,4.2,4.4,4.6,4.8,5.2,5.4,5.6,5.8,6.2,6.4,6.6,6.8,7.2,7.4,7.6,7.8,8.2,8.4,8.6,8.8,9.2], "tickSize": -3.5, "labels": false, "domain": false,
          "title": "p", "titleFontSize": 25, "titleFontWeight": "bold", "titleAlign": "right", "titleAngle": 0, "titleBaseline": "alphabetic", "titleX": 520, "titleY": 42}},
      "y": {"field": "lo", "type": "quantitative",
        "axis": {"orient": "left", "offset": -325.7, "values": [0.1,0.2,0.3,0.4,0.6,0.7,0.8,0.9,1.1,1.2,1.3,1.4,1.6,1.7,1.8,1.9,2.1,2.2,2.3,2.4,2.6,2.7,2.8], "tickSize": -4, "labels": false, "domain": false, "title": null}},
      "y2": {"field": "hi"}
    }
   },
   {
    "data": {"name": "ratioerr"},
    "mark": {"type": "tick", "orient": "horizontal", "size": 6, "thickness": 1, "color": "black", "opacity": 1},
    "encoding": {
      "x": {"field": "x", "type": "quantitative",
        "axis": {"orient": "top", "offset": -42.3, "values": [0,1,2,3,4,5,6,7,8,9], "tickSize": -7, "labels": false, "domain": true, "domainWidth": 1.2, "title": null}},
      "y": {"field": "lo", "type": "quantitative",
        "axis": {"orient": "right", "offset": -33, "values": [0,0.5,1,1.5,2,2.5], "tickSize": -8, "labels": false, "domain": true, "domainWidth": 1.2, "title": null}}
    }
   },
   {
    "data": {"name": "ratioerr"},
    "mark": {"type": "tick", "orient": "horizontal", "size": 6, "thickness": 1, "color": "black", "opacity": 1},
    "encoding": {
      "x": {"field": "x", "type": "quantitative",
        "axis": {"orient": "top", "offset": -42.3, "values": [0.2,0.4,0.6,0.8,1.2,1.4,1.6,1.8,2.2,2.4,2.6,2.8,3.2,3.4,3.6,3.8,4.2,4.4,4.6,4.8,5.2,5.4,5.6,5.8,6.2,6.4,6.6,6.8,7.2,7.4,7.6,7.8,8.2,8.4,8.6,8.8,9.2], "tickSize": -3.5, "labels": false, "domain": false, "title": null}},
      "y": {"field": "hi", "type": "quantitative",
        "axis": {"orient": "right", "offset": -33, "values": [0.1,0.2,0.3,0.4,0.6,0.7,0.8,0.9,1.1,1.2,1.3,1.4,1.6,1.7,1.8,1.9,2.1,2.2,2.3,2.4,2.6,2.7,2.8], "tickSize": -4, "labels": false, "domain": false, "title": null}}
    }
   },
   {
    "data": {"name": "ratio"},
    "mark": {"type": "circle", "size": 85, "color": "black", "opacity": 1},
    "encoding": {
      "x": {"field": "x", "type": "quantitative",
        "axis": {"orient": "bottom", "offset": -659, "ticks": false, "labels": false, "domain": false,
          "title": "T", "titleFontSize": 17, "titleFontWeight": "bold", "titleAlign": "left", "titleAngle": 0, "titleBaseline": "alphabetic", "titleX": 521, "titleY": 48}},
      "y": {"field": "y", "type": "quantitative", "axis": null}
    }
   }
  ],
  "resolve": {"axis": {"x": "independent", "y": "independent"}}
 }
],
"resolve": {"scale": {"x": "independent", "y": "independent"}, "axis": {"x": "independent", "y": "independent"}}
}
